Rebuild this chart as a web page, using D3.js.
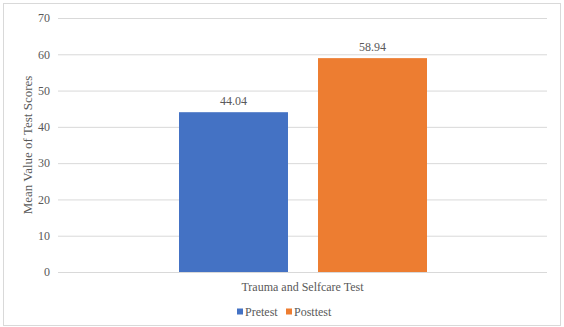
<!DOCTYPE html>
<html>
    <head>
        <title>trauma selfcare</title>
        <script src="https://d3js.org/d3.v7.min.js"></script>
    </head>
    <body style="margin:0; background:#fff">
        <svg class="chart"></svg>
        <script>
            var category = "Trauma and Selfcare Test";
            var seriesNames = ["Pretest", "Posttest"];
            var seriesValues = [44.04, 58.94];
            var seriesColors = ["#4472C4", "#ED7D31"];
            var yTicks = [0, 10, 20, 30, 40, 50, 60, 70];

            var font = "Liberation Serif";
            var textColor = "#595959";

            var svgWidth = 564, svgHeight = 327;
            var margin = {top: 18, right: 17, bottom: 55, left: 58};
            var width = svgWidth - margin.left - margin.right;
            var height = svgHeight - margin.top - margin.bottom;

            var svg = d3.select(".chart")
                .attr("width", svgWidth)
                .attr("height", svgHeight);

            // outer frame
            svg.append("rect")
                .attr("x", 3.5).attr("y", 3.5)
                .attr("width", 557).attr("height", 322)
                .attr("fill", "#fff")
                .attr("stroke", "#d9d9d9");

            var chart = svg.append("g")
                .attr("transform", "translate(" + margin.left + "," + margin.top + ")");

            var yScale = d3.scaleLinear().domain([0, 70]).range([height, 0]);
            var xScale = d3.scaleBand().domain([category]).range([0, width]);
            var xInner = d3.scaleBand().domain(seriesNames)
                .range([xScale(category) + 121, xScale(category) + xScale.bandwidth() - 120])
                .paddingInner(0.216);

            var yAxis = d3.axisLeft(yScale).tickValues(yTicks).tickSize(-width).tickPadding(8);
            var gy = chart.append("g").attr("class", "y axis").call(yAxis);
            gy.attr("font-family", font).attr("font-size", 12);
            gy.select(".domain").remove();
            gy.selectAll("line").attr("stroke", "#d9d9d9");
            gy.selectAll("text").attr("fill", textColor);

            chart.selectAll(".bar")
                .data(seriesValues).enter().append("rect")
                    .attr("class", "bar")
                    .attr("x", (d, i) => xInner(seriesNames[i]))
                    .attr("y", d => yScale(d))
                    .attr("width", xInner.bandwidth())
                    .attr("height", d => height - yScale(d))
                    .attr("fill", (d, i) => seriesColors[i]);

            chart.selectAll(".val")
                .data(seriesValues).enter().append("text")
                    .attr("class", "val")
                    .attr("x", (d, i) => xInner(seriesNames[i]) + xInner.bandwidth() / 2)
                    .attr("y", d => yScale(d) - 7)
                    .attr("text-anchor", "middle")
                    .attr("font-family", font).attr("font-size", 12).attr("fill", textColor)
                    .text(d => d.toFixed(2));

            chart.append("text")
                .attr("x", xScale(category) + xScale.bandwidth() / 2)
                .attr("y", height + 19)
                .attr("text-anchor", "middle")
                .attr("font-family", font).attr("font-size", 12).attr("fill", textColor)
                .text(category);

            chart.append("text")
                .attr("transform", "rotate(-90)")
                .attr("x", -127)
                .attr("y", -26)
                .attr("text-anchor", "middle")
                .attr("font-family", font).attr("font-size", 13).attr("fill", textColor)
                .text("Mean Value of Test Scores");

            // legend
            var legend = svg.append("g").attr("transform", "translate(237,312)");
            var offsets = [0, 49];
            seriesNames.forEach(function (name, i) {
                var g = legend.append("g").attr("transform", "translate(" + offsets[i] + ",0)");
                g.append("rect").attr("x", 0).attr("y", -3.5).attr("width", 6).attr("height", 6)
                    .attr("fill", seriesColors[i]);
                g.append("text").attr("x", 8).attr("y", 4)
                    .attr("font-family", font).attr("font-size", 12).attr("fill", textColor)
                    .text(name);
            });
        </script>
    </body>
</html>
